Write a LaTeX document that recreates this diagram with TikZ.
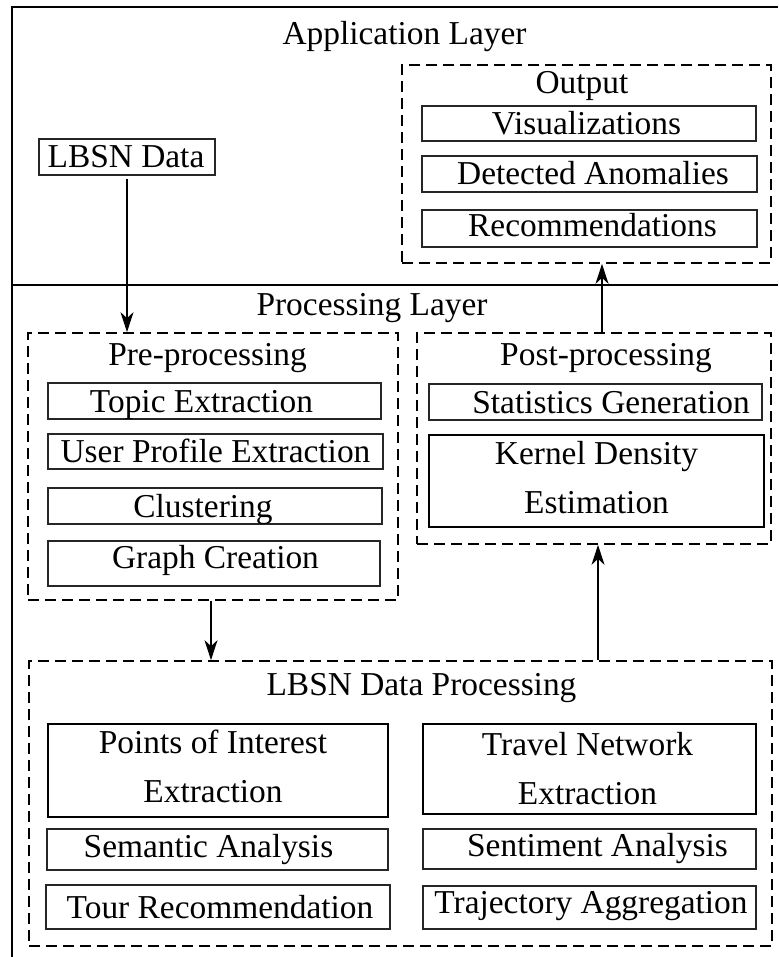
\documentclass[tikz,border=0pt]{standalone}
\usepackage{fontspec}
\setmainfont{Liberation Serif}
\usetikzlibrary{arrows.meta}

% shift a one-line label inside its box without moving the box
\newcommand\nudge[3]{\hspace*{#1}\raisebox{#2}{#3}\hspace*{-#1}}

\begin{document}
\begin{tikzpicture}[x=1pt,y=-1pt,
  every node/.style={font=\fontsize{33.4}{40}\selectfont, inner sep=0pt},
  item/.style={draw=black!85, line width=1.3pt, text height=22pt, text depth=0pt},
  bigitem/.style={draw=black, line width=1.8pt, align=center,
                  font=\fontsize{33.4}{49}\selectfont},
  group/.style={draw, line width=1.7pt, dash pattern=on 11pt off 6pt},
  heading/.style={anchor=base},
  flow/.style={line width=1.2pt, -{Stealth[length=20pt,width=13pt,inset=6pt]}},
  frame/.style={line width=2.2pt}]

\useasboundingbox (0,0) rectangle (778,957);

% layer frame
\draw[frame] (778,7) -- (12,7) -- (12,957);
\draw[frame] (12,285) -- (778,285);

\node[heading] (applayer)  at (404.5,45) {Application Layer};
\node[heading] (proclayer) at (372,315)  {Processing Layer};

% input
\node[item, minimum width=176pt, minimum height=36pt] (lbsn) at (127,157) {\nudge{-1pt}{0pt}{LBSN Data}};

% output group
\node[group, minimum width=369pt, minimum height=198pt] (out) at (586.5,164) {};
\node[heading] (outtitle) at (582,94) {Output};
\node[item, minimum width=334pt, minimum height=35pt] (vis) at (589,123.5) {\nudge{-2.5pt}{0pt}{Visualizations}};
\node[item, minimum width=335pt, minimum height=36pt] (det) at (589.5,174) {\nudge{3.5pt}{0pt}{Detected Anomalies}};
\node[item, minimum width=335pt, minimum height=37pt] (rec) at (589.5,228.5) {\nudge{3pt}{2.5pt}{Recommendations}};

% pre-processing group
\node[group, minimum width=370pt, minimum height=267pt] (pre) at (213,466.5) {};
\node[heading] (pretitle) at (207.5,365) {Pre-processing};
\node[item, minimum width=333pt, minimum height=36pt] (topic) at (214.5,401) {\nudge{-13pt}{0pt}{Topic Extraction}};
\node[item, minimum width=335pt, minimum height=35pt] (user) at (215.5,451.5) {User Profile Extraction};
\node[item, minimum width=334pt, minimum height=36pt] (clust) at (215,506) {\nudge{-12pt}{0pt}{Clustering}};
\node[item, minimum width=332pt, minimum height=45pt] (graph) at (214,563.5) {\nudge{1.5pt}{6pt}{Graph Creation}};

% post-processing group
\node[group, minimum width=354pt, minimum height=211pt] (post) at (594,438.5) {};
\node[heading] (posttitle) at (606,365) {Post-processing};
\node[item, minimum width=333pt, minimum height=36pt] (stats) at (595.5,402) {\nudge{15.5pt}{0pt}{Statistics Generation}};
\node[bigitem, minimum width=335pt, minimum height=92pt] (kde) at (596.5,481)
  {Kernel Density\\Estimation\rule[-8pt]{0pt}{8pt}};

% LBSN data processing group
\node[group, minimum width=743pt, minimum height=285pt] (proc) at (400.5,803.5) {};
\node[heading] (proctitle) at (421.5,695) {LBSN Data Processing};
\node[bigitem, minimum width=340pt, minimum height=93pt] (poi) at (218,770.5)
  {\hspace*{-10pt}Points of Interest\\\hspace*{-10pt}Extraction\rule[-9pt]{0pt}{9pt}};
\node[item, minimum width=341pt, minimum height=41pt] (sem) at (217.5,849.5) {\nudge{-9pt}{3pt}{Semantic Analysis}};
\node[item, minimum width=344pt, minimum height=44pt] (tour) at (218,907) {\nudge{2pt}{0pt}{Tour Recommendation}};
\node[bigitem, minimum width=333pt, minimum height=90pt] (tne) at (589.5,769)
  {\hspace*{-4pt}Travel Network\\\hspace*{-4pt}Extraction\rule[-2pt]{0pt}{2pt}};
\node[item, minimum width=333pt, minimum height=40pt] (sent) at (589.5,849) {\nudge{8pt}{4pt}{Sentiment Analysis}};
\node[item, minimum width=333pt, minimum height=43pt] (traj) at (589.5,907.5) {\nudge{1.5pt}{5.5pt}{Trajectory Aggregation}};

% data flow
\draw[flow, shorten <=3pt] (lbsn.south) -- (lbsn.south |- pre.north);
\draw[flow] ([xshift=-2pt]pre.south) -- ([xshift=-2pt]pre.south |- proc.north);
\draw[flow] ([xshift=4pt]post.south |- proc.north) -- ([xshift=4pt]post.south);
\draw[flow] ([xshift=8pt]post.north) -- ([xshift=8pt]post.north |- out.south);

\end{tikzpicture}
\end{document}
